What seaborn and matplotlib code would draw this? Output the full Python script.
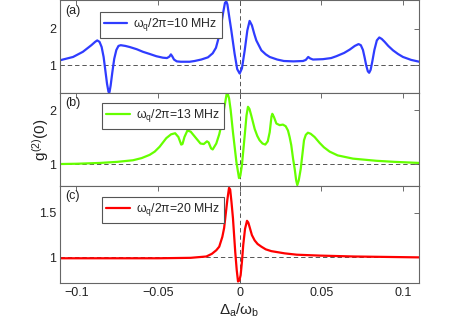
import numpy as np
import pandas as pd
import matplotlib
matplotlib.use("Agg")
import matplotlib.pyplot as plt
import seaborn as sns

# ---- data ----
xa = [-0.110, -0.102, -0.096, -0.0908, -0.0885, -0.0872, -0.0858, -0.0845, -0.0833, -0.0822,
      -0.0812, -0.0803, -0.0797, -0.0790, -0.0780, -0.0768, -0.0755, -0.0742, -0.0728, -0.0700,
      -0.0673, -0.0630, -0.0592, -0.0550, -0.0510, -0.0470, -0.0445, -0.0430, -0.0421, -0.0413,
      -0.0402, -0.0385, -0.0360, -0.0306, -0.0276, -0.0235, -0.0194, -0.0165, -0.0145, -0.0122,
      -0.0102, -0.0090, -0.0082, -0.0075, -0.0063, -0.0051, -0.0031, -0.0015, 0.0000, 0.0014,
      0.0031, 0.0047, 0.0061, 0.0075, 0.0090, 0.0102, 0.0133, 0.0160, 0.0184, 0.0230,
      0.0271, 0.0330, 0.0388, 0.0405, 0.0420, 0.0432, 0.0449, 0.0510, 0.0560, 0.0592,
      0.0640, 0.0674, 0.0705, 0.0728, 0.0742, 0.0755, 0.0765, 0.0775, 0.0785, 0.0793,
      0.0802, 0.0812, 0.0825, 0.0840, 0.0855, 0.0870, 0.0888, 0.0910, 0.0939, 0.0970,
      0.1000, 0.1050, 0.1100]
ya = [1.14, 1.23, 1.37, 1.55, 1.64, 1.68, 1.64, 1.50, 1.23, 0.85,
      0.50, 0.28, 0.27, 0.45, 0.80, 1.18, 1.42, 1.53, 1.55, 1.53,
      1.50, 1.44, 1.37, 1.31, 1.25, 1.21, 1.20, 1.24, 1.30, 1.25,
      1.16, 1.11, 1.10, 1.10, 1.12, 1.16, 1.22, 1.33, 1.48, 1.86,
      2.41, 2.70, 2.74, 2.66, 2.30, 1.95, 1.32, 0.90, 0.78, 0.92,
      1.41, 1.95, 2.21, 2.09, 1.85, 1.68, 1.41, 1.30, 1.23, 1.16,
      1.12, 1.11, 1.12, 1.15, 1.23, 1.19, 1.16, 1.17, 1.20, 1.25,
      1.34, 1.43, 1.53, 1.58, 1.55, 1.42, 1.22, 1.00, 0.84, 0.80,
      0.88, 1.10, 1.42, 1.68, 1.76, 1.72, 1.64, 1.53, 1.41, 1.31,
      1.23, 1.15, 1.10]

xb = [-0.110, -0.100, -0.0857, -0.075, -0.0653, -0.060, -0.0551, -0.052, -0.049, -0.0449,
      -0.0420, -0.0395, -0.0375, -0.0358, -0.0350, -0.0338, -0.0320, -0.0300, -0.0270, -0.0240,
      -0.0220, -0.0200, -0.0190, -0.0175, -0.0165, -0.0143, -0.0125, -0.0112, -0.0092, -0.0080,
      -0.0074, -0.0065, -0.0055, -0.0041, -0.0020, -0.0004, 0.0004, 0.0014, 0.0031, 0.0042,
      0.0051, 0.0060, 0.0071, 0.0092, 0.0108, 0.0122, 0.0140, 0.0157, 0.0172, 0.0184,
      0.0195, 0.0200, 0.0210, 0.0225, 0.0245, 0.0265, 0.0282, 0.0296, 0.0306, 0.0316,
      0.0327, 0.0337, 0.0346, 0.0353, 0.0362, 0.0374, 0.0385, 0.0394, 0.0405, 0.0418,
      0.0435, 0.0459, 0.0490, 0.0516, 0.0551, 0.0600, 0.0694, 0.0837, 0.0950, 0.1100]
yb = [1.00, 1.005, 1.02, 1.04, 1.07, 1.11, 1.17, 1.23, 1.32, 1.48,
      1.55, 1.57, 1.50, 1.36, 1.37, 1.50, 1.62, 1.60, 1.49, 1.38,
      1.37, 1.42, 1.40, 1.29, 1.27, 1.38, 1.55, 1.72, 2.08, 2.29,
      2.31, 2.22, 2.00, 1.59, 1.04, 0.74, 0.78, 0.98, 1.53, 1.90,
      2.06, 2.02, 1.90, 1.65, 1.52, 1.44, 1.38, 1.36, 1.42, 1.59,
      1.88, 1.93, 1.87, 1.75, 1.72, 1.73, 1.70, 1.62, 1.50, 1.35,
      1.10, 0.91, 0.70, 0.61, 0.70, 0.91, 1.20, 1.44, 1.54, 1.58,
      1.56, 1.50, 1.39, 1.31, 1.23, 1.16, 1.10, 1.06, 1.04, 1.02]

xc = [-0.110, -0.080, -0.050, -0.030, -0.0204, -0.0170, -0.0143, -0.0125, -0.0106, -0.0095,
      -0.0085, -0.0075, -0.0065, -0.0058, -0.0050, -0.0041, -0.0034, -0.0027, -0.0018, -0.0010,
      -0.0002, 0.0006, 0.0014, 0.0022, 0.0033, 0.0045, 0.0053, 0.0061, 0.0075, 0.0092,
      0.0110, 0.0133, 0.0160, 0.0194, 0.0276, 0.0350, 0.0490, 0.0700, 0.0900, 0.1100]
yc = [0.99, 0.99, 0.99, 0.995, 1.01, 1.04, 1.08, 1.12, 1.23, 1.33,
      1.49, 1.65, 1.78, 1.76, 1.62, 1.44, 1.25, 1.06, 0.86, 0.73,
      0.74, 0.80, 0.95, 1.14, 1.32, 1.41, 1.39, 1.34, 1.25, 1.19,
      1.15, 1.12, 1.09, 1.07, 1.045, 1.03, 1.02, 1.01, 1.005, 1.00]

labels = [r"$\omega_q/2\pi$=10 MHz", r"$\omega_q/2\pi$=13 MHz", r"$\omega_q/2\pi$=20 MHz"]
panel_tags = ["(a)", "(b)", "(c)"]
xticks = [-0.1, -0.05, 0, 0.05, 0.1]
xticklabels = ["\u22120.1", "\u22120.05", "0", "0.05", "0.1"]
yticks = [[1, 2], [1, 2], [1, 1.5]]
ytickslabels = [["1", "2"], ["1", "2"], ["1", "1.5"]]
ylims = [(0.25, 2.765), (0.593, 2.315), (0.716, 1.80)]

sns.set_theme(style="white")
plt.rcParams['font.family'] = ['Liberation Sans', 'DejaVu Sans']
plt.rcParams['mathtext.fontset'] = 'custom'
plt.rcParams['mathtext.rm'] = 'Liberation Sans'
plt.rcParams['mathtext.it'] = 'Liberation Sans'
plt.rcParams['mathtext.sf'] = 'Liberation Sans'

fig = plt.figure(figsize=(4.63, 3.33), dpi=100)
L, W = 0.1296, 0.776
rects = [(L, 0.7207, W, 0.2778), (L, 0.4414, W, 0.2793), (L, 0.151, W, 0.2904)]
colors = ["#2f3cff", "#66ff00", "#ff0000"]
datas = [(xa, ya), (xb, yb), (xc, yc)]
leg_anchor = [(0.111, 0.876), (0.117, 0.892), (0.117, 0.886)]

axes = []
for i in range(3):
    ax = fig.add_axes(rects[i])
    axes.append(ax)
    df = pd.DataFrame({"x": datas[i][0], "y": datas[i][1]})
    sns.lineplot(data=df, x="x", y="y", ax=ax, color=colors[i], lw=1.6,
                 label=labels[i], sort=False, estimator=None)
    ax.axhline(1, color="#555555", ls=(0, (4.5, 3)), lw=0.7, zorder=1)
    ax.axvline(0, color="#555555", ls=(0, (4.5, 3)), lw=0.7, zorder=1)
    ax.set_xlim(-0.11, 0.11)
    ax.set_ylim(*ylims[i])
    ax.set_xticks(xticks)
    ax.set_yticks(yticks[i])
    ax.set_yticklabels(ytickslabels[i])
    if i == 2:
        ax.set_xticklabels(xticklabels)
    else:
        ax.set_xticklabels([])
    ax.set_xlabel("")
    ax.set_ylabel("")
    ax.tick_params(direction="in", length=3.5, width=0.6, colors="#555555",
                   labelcolor="#222222", labelsize=9, top=True, right=True,
                   pad=3)
    for sp in ax.spines.values():
        sp.set_color("#666666")
        sp.set_linewidth(0.8)
    ax.text(0.015, 0.955, panel_tags[i], transform=ax.transAxes, va="top",
            ha="left", fontsize=9, color="#222222")
    leg = ax.legend(loc="upper left", bbox_to_anchor=leg_anchor[i], borderaxespad=0,
                    frameon=True, fancybox=False, fontsize=8.8, handlelength=1.9,
                    handletextpad=0.5, borderpad=0.35, framealpha=1)
    leg.get_frame().set_edgecolor("#555555")
    leg.get_frame().set_linewidth(0.8)

axes[2].set_xlabel(r"$\Delta_a/\omega_b$", fontsize=11, color="#222222", labelpad=2)
fig.text(0.087, 0.58, r"$g^{(2)}(0)$", rotation=90, fontsize=11, color="#222222",
         ha="center", va="center")

fig.savefig("out.png", dpi=100)
